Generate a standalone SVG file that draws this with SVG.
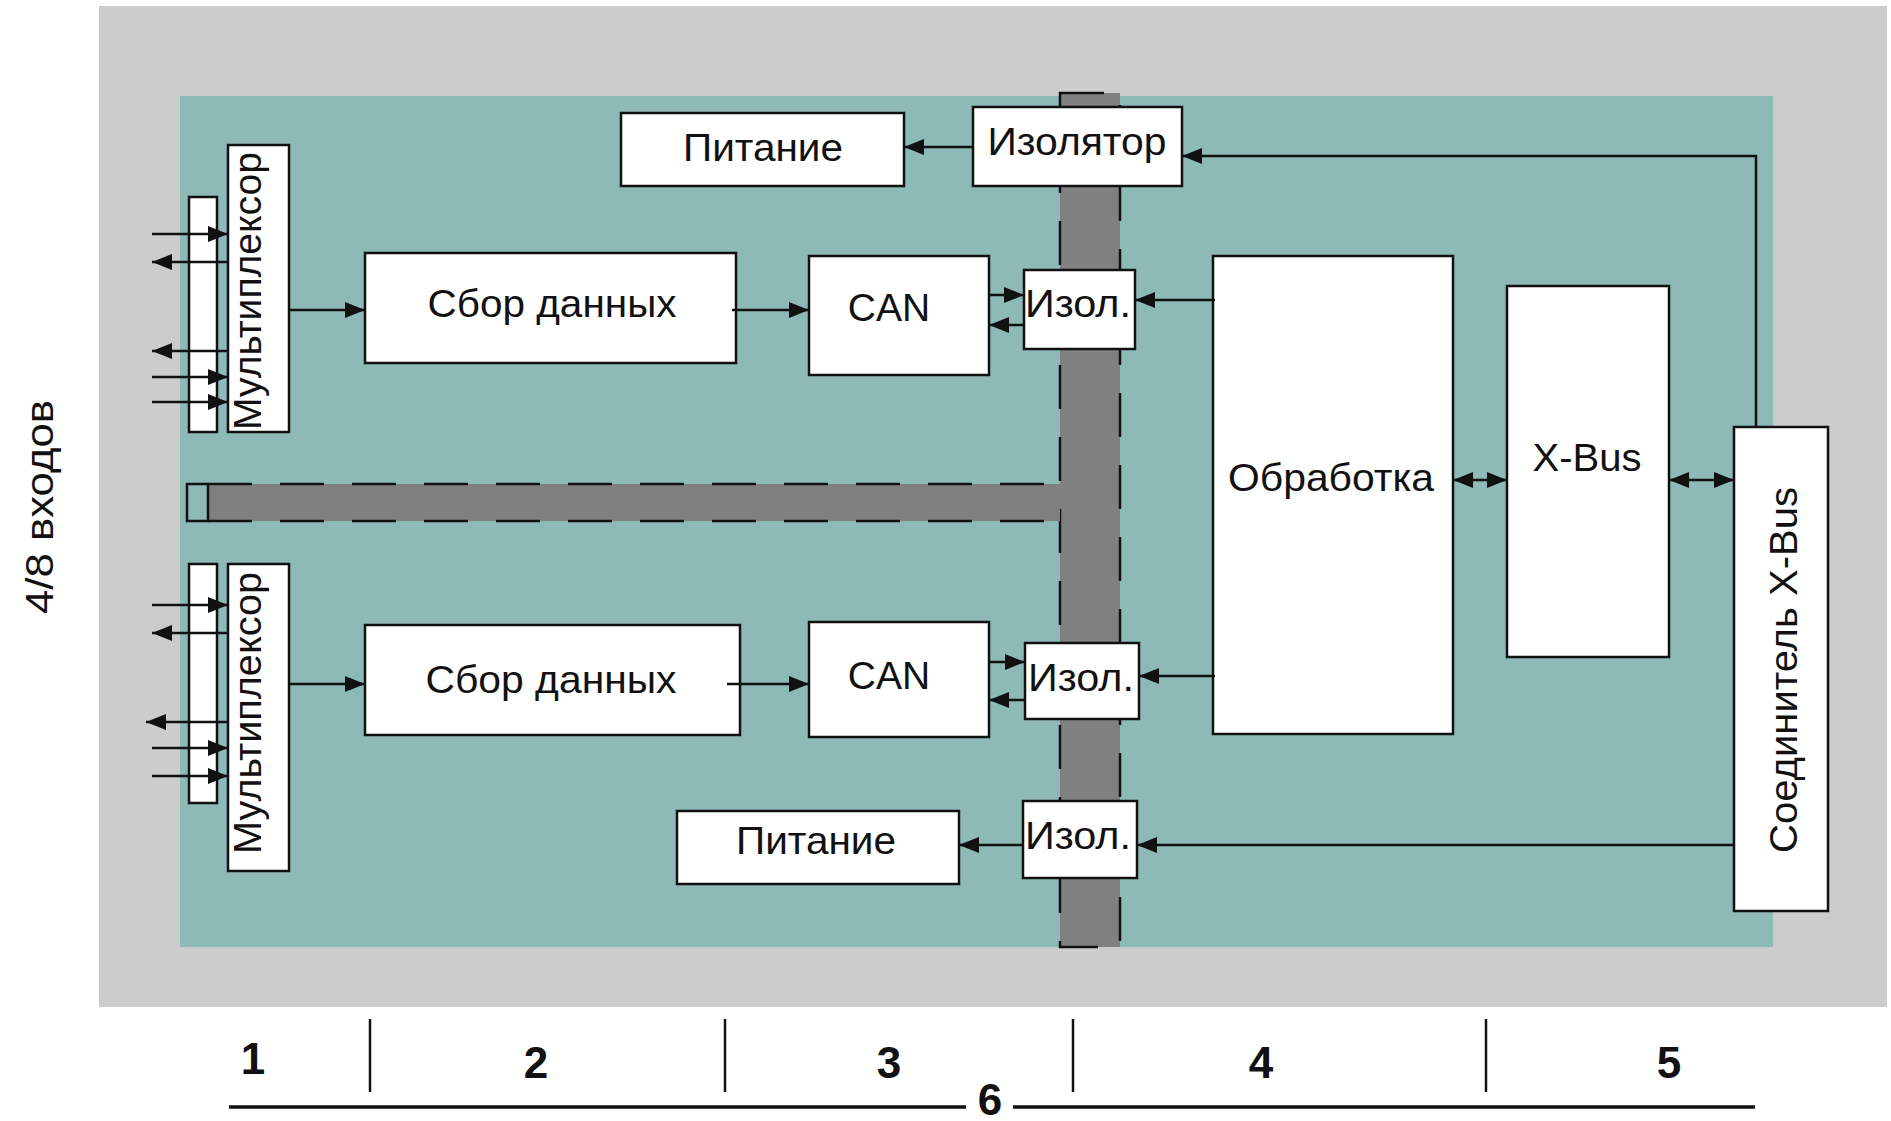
<svg xmlns="http://www.w3.org/2000/svg" width="1891" height="1121" viewBox="0 0 1891 1121">
<style>
.box{fill:#ffffff;stroke:#111;stroke-width:2.5}
.lbl{font-family:"Liberation Sans",Arial,sans-serif;font-size:39px;fill:#111;text-anchor:middle}
.num{font-family:"Liberation Sans",Arial,sans-serif;font-size:44px;font-weight:bold;fill:#111;text-anchor:middle}
.ln{fill:none;stroke:#111;stroke-width:2.5}
.arr{fill:none;stroke:#111;stroke-width:2.5;marker-end:url(#ah)}
.arr2{fill:none;stroke:#111;stroke-width:2.5;marker-end:url(#ah);marker-start:url(#ah)}
.dash{fill:none;stroke:#111;stroke-width:2.5;stroke-dasharray:44 28}
</style>
<defs>
<marker id="ah" viewBox="0 0 20 16" refX="20" refY="8" markerWidth="20" markerHeight="16" markerUnits="userSpaceOnUse" orient="auto-start-reverse">
<path d="M0,0 L20,8 L0,16 z" fill="#111"/>
</marker>
</defs>
<rect x="0" y="0" width="1891" height="1121" fill="#ffffff"/>
<g id="frame">
<rect x="99" y="6" width="1788" height="1001" fill="#cccccc"/>
<rect x="180" y="96" width="1593" height="851" fill="#8db9b7"/>
</g>
<g id="isolation-barrier">
<rect x="1060" y="93" width="60" height="854" fill="#808080"/>
<rect x="1060" y="93" width="60" height="854" class="dash"/>
<rect x="208" y="484" width="852" height="37" fill="#808080"/>
<line x1="208" y1="484" x2="1060" y2="484" class="dash"/>
<line x1="208" y1="521" x2="1060" y2="521" class="dash"/>
<rect x="187" y="484" width="21" height="37" fill="#8db9b7" stroke="#111" stroke-width="2.5"/>
</g>
<g id="inputs-label">
<text class="lbl" transform="translate(53,507) rotate(-90)" textLength="214" lengthAdjust="spacingAndGlyphs">4/8 входов</text>
</g>
<g id="terminal-1"><rect class="box" x="189" y="197" width="28" height="235"/></g>
<g id="mux-1">
<rect class="box" x="228" y="145" width="61" height="287"/>
<text class="lbl" transform="translate(261,291) rotate(-90)" textLength="278" lengthAdjust="spacingAndGlyphs">Мультиплексор</text>
</g>
<g id="terminal-2"><rect class="box" x="189" y="564" width="28" height="239"/></g>
<g id="mux-2">
<rect class="box" x="228" y="564" width="61" height="307"/>
<text class="lbl" transform="translate(261,713) rotate(-90)" textLength="282" lengthAdjust="spacingAndGlyphs">Мультиплексор</text>
</g>
<g id="acq-1">
<rect class="box" x="365" y="253" width="371" height="110"/>
<text class="lbl" x="552" y="317" textLength="249" lengthAdjust="spacingAndGlyphs">Сбор данных</text>
</g>
<g id="acq-2">
<rect class="box" x="365" y="625" width="375" height="110"/>
<text class="lbl" x="551" y="693" textLength="251" lengthAdjust="spacingAndGlyphs">Сбор данных</text>
</g>
<g id="can-1">
<rect class="box" x="809" y="256" width="180" height="119"/>
<text class="lbl" x="889" y="321">CAN</text>
</g>
<g id="can-2">
<rect class="box" x="809" y="622" width="180" height="115"/>
<text class="lbl" x="889" y="689">CAN</text>
</g>
<g id="power-1">
<rect class="box" x="621" y="113" width="283" height="73"/>
<text class="lbl" x="763" y="161" textLength="160" lengthAdjust="spacingAndGlyphs">Питание</text>
</g>
<g id="power-2">
<rect class="box" x="677" y="811" width="282" height="73"/>
<text class="lbl" x="816" y="854" textLength="160" lengthAdjust="spacingAndGlyphs">Питание</text>
</g>
<g id="isolator-main">
<rect class="box" x="973" y="107" width="209" height="79"/>
<text class="lbl" x="1077" y="155" textLength="179" lengthAdjust="spacingAndGlyphs">Изолятор</text>
</g>
<g id="iso-1">
<rect class="box" x="1024" y="270" width="111" height="79"/>
<text class="lbl" x="1078" y="317" textLength="106" lengthAdjust="spacingAndGlyphs">Изол.</text>
</g>
<g id="iso-2">
<rect class="box" x="1025" y="643" width="114" height="76"/>
<text class="lbl" x="1081" y="691" textLength="106" lengthAdjust="spacingAndGlyphs">Изол.</text>
</g>
<g id="iso-3">
<rect class="box" x="1023" y="801" width="114" height="77"/>
<text class="lbl" x="1078" y="849" textLength="106" lengthAdjust="spacingAndGlyphs">Изол.</text>
</g>
<g id="processing">
<rect class="box" x="1213" y="256" width="240" height="478"/>
<text class="lbl" x="1331" y="491" textLength="206" lengthAdjust="spacingAndGlyphs">Обработка</text>
</g>
<g id="xbus">
<rect class="box" x="1507" y="286" width="162" height="371"/>
<text class="lbl" x="1587" y="471" textLength="109" lengthAdjust="spacingAndGlyphs">X-Bus</text>
</g>
<g id="xbus-connector">
<rect class="box" x="1734" y="427" width="94" height="484"/>
<text class="lbl" transform="translate(1797,670) rotate(-90)" textLength="366" lengthAdjust="spacingAndGlyphs">Соединитель X-Bus</text>
</g>
<g id="connectors">
<line class="arr" x1="152" y1="234" x2="228" y2="234"/>
<line class="arr" x1="228" y1="262" x2="152" y2="262"/>
<line class="arr" x1="228" y1="351" x2="152" y2="351"/>
<line class="arr" x1="152" y1="377" x2="228" y2="377"/>
<line class="arr" x1="152" y1="402" x2="228" y2="402"/>
<line class="arr" x1="152" y1="605" x2="228" y2="605"/>
<line class="arr" x1="228" y1="633" x2="152" y2="633"/>
<line class="arr" x1="228" y1="722" x2="146" y2="722"/>
<line class="arr" x1="152" y1="748" x2="228" y2="748"/>
<line class="arr" x1="152" y1="776" x2="228" y2="776"/>
<line class="arr" x1="289" y1="310" x2="365" y2="310"/>
<line class="arr" x1="289" y1="684" x2="365" y2="684"/>
<line class="arr" x1="732" y1="310" x2="809" y2="310"/>
<line class="arr" x1="727" y1="684" x2="809" y2="684"/>
<line class="arr" x1="989" y1="295" x2="1024" y2="295"/>
<line class="arr" x1="1024" y1="325" x2="989" y2="325"/>
<line class="arr" x1="989" y1="662" x2="1025" y2="662"/>
<line class="arr" x1="1025" y1="700" x2="989" y2="700"/>
<line class="arr" x1="1215" y1="300" x2="1135" y2="300"/>
<line class="arr" x1="1215" y1="676" x2="1139" y2="676"/>
<line class="arr" x1="973" y1="147" x2="904" y2="147"/>
<line class="arr" x1="1023" y1="845" x2="959" y2="845"/>
<path class="arr" d="M1756,427 V156 H1182"/>
<line class="arr" x1="1734" y1="845" x2="1137" y2="845"/>
<line class="arr2" x1="1453" y1="480" x2="1507" y2="480"/>
<line class="arr2" x1="1669" y1="480" x2="1734" y2="480"/>
</g>
<g id="sections">
<line class="ln" x1="370" y1="1019" x2="370" y2="1092"/>
<line class="ln" x1="725" y1="1019" x2="725" y2="1092"/>
<line class="ln" x1="1073" y1="1019" x2="1073" y2="1092"/>
<line class="ln" x1="1486" y1="1019" x2="1486" y2="1092"/>
<line x1="229" y1="1107" x2="966" y2="1107" stroke="#111" stroke-width="3.5"/>
<line x1="1013" y1="1107" x2="1755" y2="1107" stroke="#111" stroke-width="3.5"/>
<text class="num" x="253" y="1074">1</text>
<text class="num" x="536" y="1078">2</text>
<text class="num" x="889" y="1078">3</text>
<text class="num" x="1261" y="1078">4</text>
<text class="num" x="1669" y="1078">5</text>
<text class="num" x="990" y="1115">6</text>
</g>
</svg>
